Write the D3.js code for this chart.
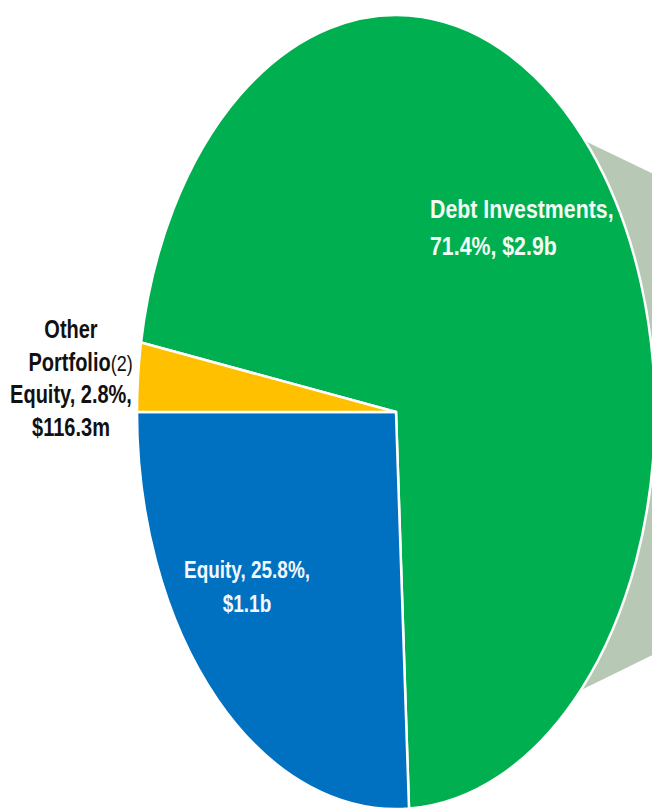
<!DOCTYPE html>
<meta charset="utf-8">
<style>
body { margin: 0; background: #fff; }
text {
  font-family: "Liberation Sans", Arial, sans-serif;
  font-weight: bold;
}
.slice {
  stroke: #fff;
  stroke-width: 2.5px;
  vector-effect: non-scaling-stroke;
  stroke-linejoin: round;
}
.connector { fill: #b7c9b5; }
</style>
<body>
<script src="https://cdn.jsdelivr.net/npm/d3@7"></script>
<script>

// portfolio mix
var categories = ["Debt Investments", "Equity", "Other Portfolio Equity"];
var shares = [71.4, 25.8, 2.8];
var amounts = ["$2.9b", "$1.1b", "$116.3m"];

// label lines for each slice
var labelLines = [
  ["Debt Investments,", "71.4%, $2.9b"],
  ["Equity, 25.8%,", "$1.1b"],
  ["Other", "Portfolio", "Equity, 2.8%,", "$116.3m"]
];

var colors = ["#00b050", "#0070c0", "#ffc000"];

var width = 652,
    height = 808;

// pie is squashed horizontally into an ellipse
var cx = 396, cy = 412,
    rx = 259, ry = 397;

var svg = d3.select("body").append("svg")
    .attr("width", width)
    .attr("height", height);

var data = categories.map(function(c, i) {
  return {name: c, share: shares[i], amount: amounts[i], lines: labelLines[i], color: colors[i]};
});

var total = d3.sum(shares);
// the small slice starts at 9 o'clock
var start = 1.5 * Math.PI - 2 * Math.PI * (shares[0] + shares[1]) / total;

var pie = d3.pie()
    .sort(null)
    .value(function(d) { return d.share; })
    .startAngle(start)
    .endAngle(start + 2 * Math.PI);

var arc = d3.arc()
    .innerRadius(0)
    .outerRadius(rx);

function ellipsePoint(deg) {
  var a = deg * Math.PI / 180;
  return [cx + rx * Math.sin(a), cy - ry * Math.cos(a)];
}

// grey connector towards the (off-page) breakdown bar
var p1 = ellipsePoint(47),
    p2 = ellipsePoint(134.5),
    barX = 800;
svg.append("path")
    .attr("class", "connector")
    .attr("d", d3.line()([
      [cx, cy], p1,
      [barX, p1[1] + 0.48 * (barX - p1[0])],
      [barX, p2[1] - 0.49 * (barX - p2[0])],
      p2
    ]) + "Z");

svg.append("g")
    .attr("transform", "translate(" + cx + "," + cy + ") scale(1," + (ry / rx) + ")")
  .selectAll("path")
    .data(pie(data))
    .enter().append("path")
      .attr("class", "slice")
      .attr("d", arc)
      .style("fill", function(d) { return d.data.color; });

// labels: [x, first baseline, line step, size, anchor, fill, x-squeeze]
var labelPos = [
  [430, 218, 37, 26, "start", "#f4fbf4", 0.82],
  [247, 578, 34, 24, "middle", "#f4f8fc", 0.79],
  [71, 338, 32.7, 25, "middle", "#111", 0.8]
];

data.forEach(function(d, i) {
  var p = labelPos[i];
  var g = svg.append("g")
      .attr("transform", "translate(" + p[0] + "," + p[1] + ") scale(" + p[6] + ",1)");
  d.lines.forEach(function(line, j) {
    var t = g.append("text")
        .attr("x", 0)
        .attr("y", j * p[2])
        .attr("text-anchor", p[4])
        .style("font-size", p[3] + "px")
        .style("fill", p[5])
        .text(line);
    if (i === 2 && line === "Portfolio") {
      // footnote marker sits after the centred word
      t.attr("x", 12);
      t.append("tspan")
          .style("font-weight", "normal")
          .style("font-size", "0.9em")
          .text("(2)");
    }
  });
});

</script>
